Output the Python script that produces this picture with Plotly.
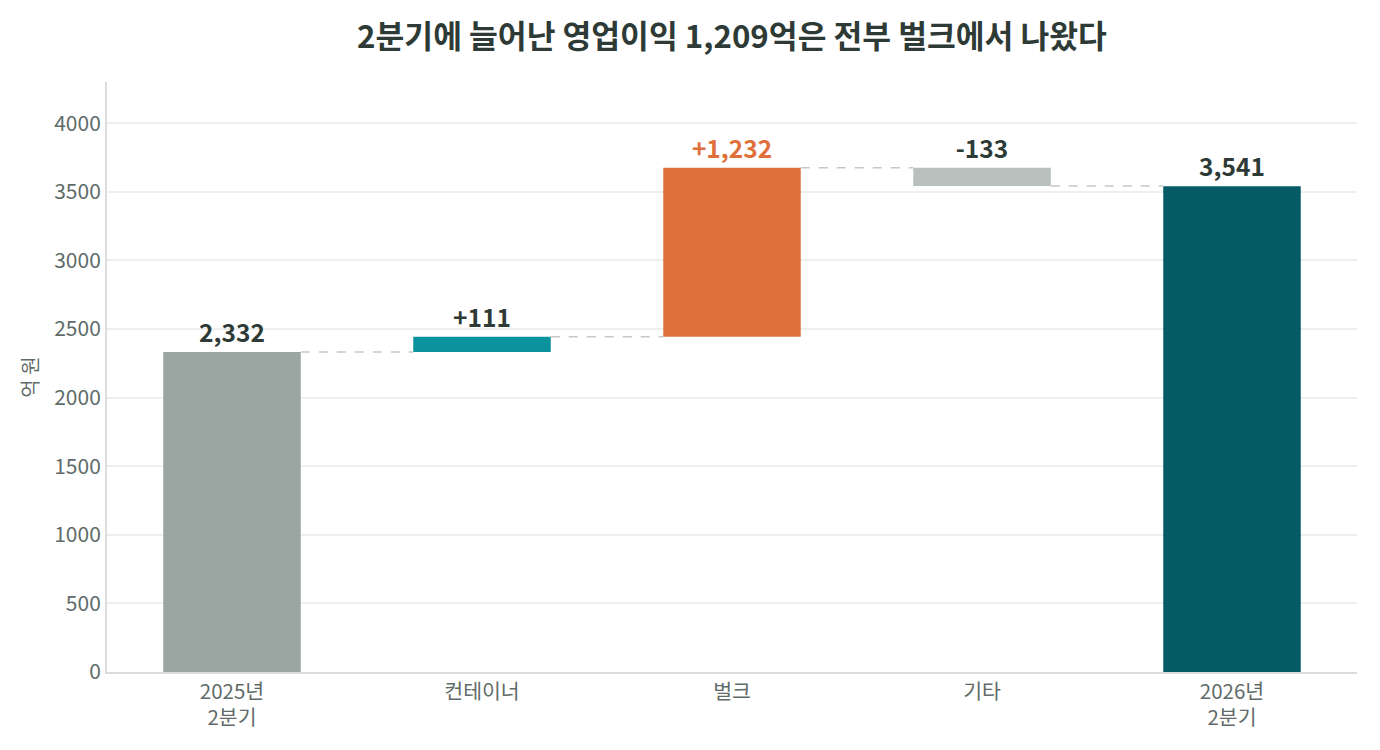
import plotly.graph_objects as go

categories = ["2025년<br>2분기", "컨테이너", "벌크", "기타", "2026년<br>2분기"]
values = [2332, 111, 1232, -133, 3541]
kinds = ["total", "delta", "delta", "delta", "total"]
labels = ["2,332", "+111", "+1,232", "-133", "3,541"]
colors = ["#9BA6A3", "#0A939C", "#E07039", "#B9C1BE", "#065B66"]
label_colors = ["#2D3A36", "#2D3A36", "#E07039", "#2D3A36", "#2D3A36"]

# compute bases
bases, heights, ends = [], [], []
run = 0
for v, k in zip(values, kinds):
    if k == "total":
        bases.append(0); heights.append(v); run = v
    else:
        lo = min(run, run + v)
        bases.append(lo); heights.append(abs(v)); run = run + v
    ends.append(run)

xs = list(range(len(categories)))
bw = 0.55
font = "Noto Sans CJK KR"

fig = go.Figure()
fig.add_trace(go.Bar(
    x=xs, y=heights, base=bases, width=bw,
    marker=dict(color=colors, line=dict(width=0)),
    text=[f"<b>{l}</b>" for l in labels], textposition="outside",
    textfont=dict(color=label_colors, size=24.5, family=font),
    cliponaxis=False, hoverinfo="skip",
))
for i in range(len(xs) - 1):
    fig.add_trace(go.Scatter(
        x=[xs[i] + bw / 2, xs[i + 1] - bw / 2], y=[ends[i], ends[i]],
        mode="lines", line=dict(color="#C4C9C7", width=1.5, dash="dash"),
        hoverinfo="skip",
    ))

fig.update_layout(
    width=1380, height=750, showlegend=False,
    paper_bgcolor="white", plot_bgcolor="white",
    margin=dict(l=99, r=31, t=74, b=86),
    font=dict(family=font, color="#5F6B68", size=20),
    title=dict(text="<b>2분기에 늘어난 영업이익 1,209억은 전부 벌크에서 나왔다</b>",
               x=0.5, xref="paper", xanchor="center", y=0.961, yanchor="middle",
               font=dict(size=31.3, color="#2D3A36", family=font)),
    xaxis=dict(tickvals=xs, ticktext=categories, range=[-0.5, 4.5],
               showgrid=False, zeroline=False, showline=True,
               linecolor="#D9DEDC", linewidth=2, ticks="",
               tickfont=dict(size=20.5, color="#5F6B68")),
    yaxis=dict(range=[0, 4300], dtick=500, showgrid=True, gridcolor="#ECEFEE",
               gridwidth=1.5, zeroline=False, showline=True, linecolor="#D9DEDC",
               linewidth=2, ticks="", tickfont=dict(size=21, color="#5F6B68"),
               title=dict(text="억 원", font=dict(size=20, color="#5F6B68"), standoff=10)),
)
fig.write_html("out.html")
